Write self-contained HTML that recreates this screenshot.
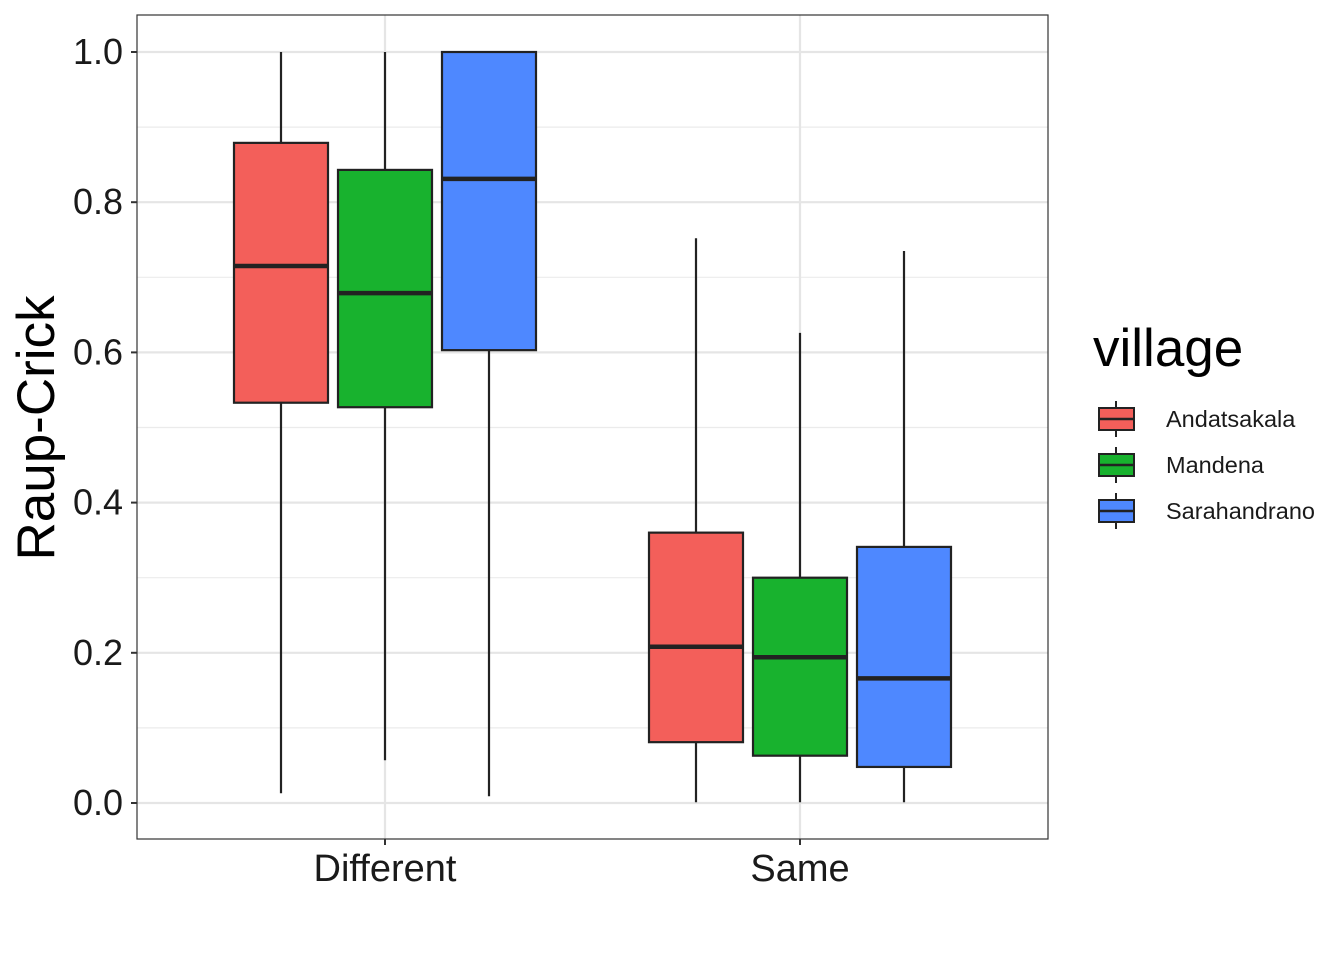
<!DOCTYPE html>
<html><head><meta charset="utf-8"><style>body{margin:0;background:#fff}svg{font-family:"Liberation Sans",Arial,sans-serif}</style></head>
<body>
<svg id="chart" width="1344" height="960" xmlns="http://www.w3.org/2000/svg">
<rect width="1344" height="960" fill="#fff"/>
<g id="grid"></g><g id="boxes"></g><g id="axes"></g><g id="legend"></g>
</svg>
<script>
const groups = ["Different", "Same"];
const villages = ["Andatsakala", "Mandena", "Sarahandrano"];
const colors = ["#F35F5A", "#18B22E", "#4E88FF"];
const lowerWhisker = [[0.013, 0.057, 0.009], [0.001, 0.001, 0.001]];
const q1 = [[0.533, 0.527, 0.603], [0.081, 0.063, 0.048]];
const median = [[0.715, 0.679, 0.831], [0.208, 0.194, 0.166]];
const q3 = [[0.879, 0.843, 1.0], [0.360, 0.300, 0.341]];
const upperWhisker = [[1.0, 1.0, 1.0], [0.752, 0.626, 0.735]];
const yTicks = [0, 0.2, 0.4, 0.6, 0.8, 1.0];
const yTickLabels = ["0.0", "0.2", "0.4", "0.6", "0.8", "1.0"];
const yMinor = [0.1, 0.3, 0.5, 0.7, 0.9];

const NS = "http://www.w3.org/2000/svg";
const L = 137, R = 1048, T = 15, B = 839;
const y = v => 803 - v * 751;
const xc = i => 385 + i * 415;
function mk(parent, tag, attrs, text) {
  const e = document.createElementNS(NS, tag);
  for (const k in attrs) e.setAttribute(k, attrs[k]);
  if (text !== undefined) e.textContent = text;
  document.getElementById(parent).appendChild(e);
  return e;
}
mk("grid", "rect", {x: L, y: T, width: R - L, height: B - T, fill: "#fff"});
yMinor.forEach(v => {
  const e = mk("grid", "line", {x1: L, x2: R, y1: y(v), y2: y(v), stroke: "#EBEBEB", "stroke-width": 1.2});
  
  
});
yTicks.forEach(v => {
  const e = mk("grid", "line", {x1: L, x2: R, y1: y(v), y2: y(v), stroke: "#E5E5E5", "stroke-width": 2.2});
  
  
});
groups.forEach((g, i) => {
  const e = mk("grid", "line", {x1: xc(i), x2: xc(i), y1: T, y2: B, stroke: "#E5E5E5", "stroke-width": 2.2});
  
  
});
const bw = 94;
groups.forEach((g, i) => {
  villages.forEach((v, j) => {
    const cx = xc(i) + (j - 1) * 104;
    const grp = mk("boxes", "g", {});
    
    
    const a = {stroke: "#222", "stroke-width": 2.2};
    const w1 = document.createElementNS(NS, "line");
    Object.entries({x1: cx, x2: cx, y1: y(upperWhisker[i][j]), y2: y(q3[i][j]), ...a}).forEach(([k, val]) => w1.setAttribute(k, val));
    grp.appendChild(w1);
    const w2 = document.createElementNS(NS, "line");
    Object.entries({x1: cx, x2: cx, y1: y(q1[i][j]), y2: y(lowerWhisker[i][j]), ...a}).forEach(([k, val]) => w2.setAttribute(k, val));
    grp.appendChild(w2);
    const r = document.createElementNS(NS, "rect");
    Object.entries({x: cx - bw / 2, y: y(q3[i][j]), width: bw, height: y(q1[i][j]) - y(q3[i][j]), fill: colors[j], ...a}).forEach(([k, val]) => r.setAttribute(k, val));
    grp.appendChild(r);
    const m = document.createElementNS(NS, "line");
    Object.entries({x1: cx - bw / 2, x2: cx + bw / 2, y1: y(median[i][j]), y2: y(median[i][j]), stroke: "#222", "stroke-width": 4.5}).forEach(([k, val]) => m.setAttribute(k, val));
    grp.appendChild(m);
  });
});
const border = mk("axes", "rect", {x: L, y: T, width: R - L, height: B - T, fill: "none", stroke: "#333", "stroke-width": 1.2});


yTicks.forEach((v, k) => {
  mk("axes", "line", {x1: 131, x2: L, y1: y(v), y2: y(v), stroke: "#333", "stroke-width": 2});
  const t = mk("axes", "text", {x: 123, y: y(v) + 12, "text-anchor": "end", "font-size": 36, fill: "#1a1a1a"}, yTickLabels[k]);
  
  
});
groups.forEach((g, i) => {
  mk("axes", "line", {x1: xc(i), x2: xc(i), y1: B, y2: B + 6, stroke: "#333", "stroke-width": 2});
  const t = mk("axes", "text", {x: xc(i), y: 881, "text-anchor": "middle", "font-size": 38, fill: "#1a1a1a"}, g);
  
  
});
const yt = mk("axes", "text", {x: 0, y: 0, transform: "translate(54,428) rotate(-90)", "text-anchor": "middle", "font-size": 53, fill: "#000"}, "Raup-Crick");


const lt = mk("legend", "text", {x: 1093, y: 366, "font-size": 53, fill: "#000"}, "village");


villages.forEach((v, j) => {
  const cy = 419 + j * 46;
  const g = mk("legend", "g", {});
  
  
  [["line", {x1: 1116, x2: 1116, y1: cy - 18, y2: cy + 18, stroke: "#222", "stroke-width": 2}],
   ["rect", {x: 1099, y: cy - 11, width: 35, height: 22, fill: colors[j], stroke: "#222", "stroke-width": 2}],
   ["line", {x1: 1099, x2: 1134, y1: cy, y2: cy, stroke: "#222", "stroke-width": 2.5}],
   ["text", {x: 1166, y: cy + 8, "font-size": 23.5, fill: "#1a1a1a"}]].forEach(([tag, at]) => {
    const e = document.createElementNS(NS, tag);
    for (const k in at) e.setAttribute(k, at[k]);
    if (tag === "text") e.textContent = v;
    g.appendChild(e);
  });
});
</script>
</body></html>
